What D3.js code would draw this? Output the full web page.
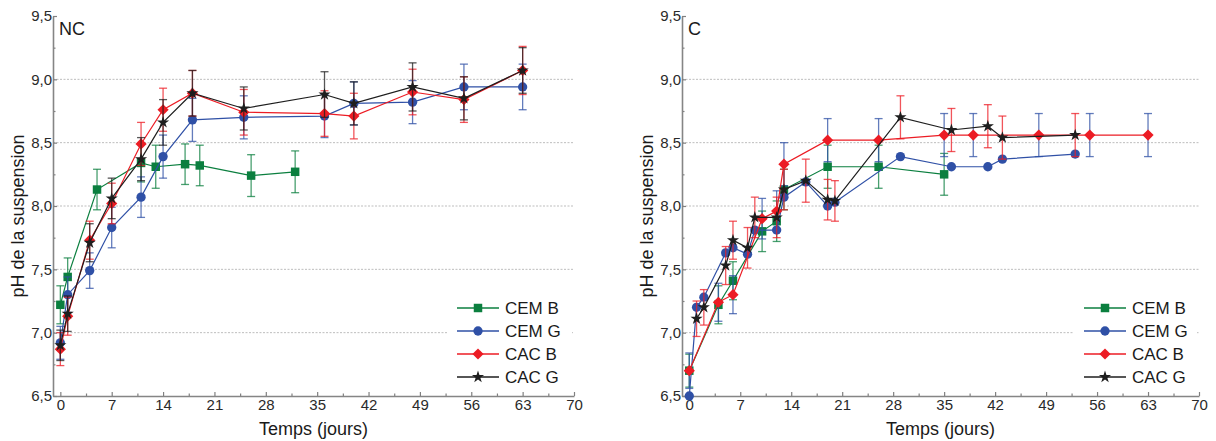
<!DOCTYPE html>
<html><head><meta charset="utf-8">
<script src="https://cdn.jsdelivr.net/npm/d3@7/dist/d3.min.js"></script>
<style>
body{margin:0;background:#fff;}
text{font-family:"Liberation Sans",Arial,sans-serif;}
</style></head>
<body>
<script>
// ---------- DATA ----------
const seriesNames = ["CEM B","CEM G","CAC B","CAC G"];
const xTicks = [0,7,14,21,28,35,42,49,56,63,70];
const yTicks = [6.5,7.0,7.5,8.0,8.5,9.0,9.5];

// Panel NC
const ncDaysCEMB = [0,1,5,11,13,17,19,26,32];
const ncCEMB     = [7.22,7.44,8.13,8.34,8.31,8.33,8.32,8.24,8.27];
const ncCEMBerr  = [0.15,0.15,0.16,0.15,0.17,0.16,0.16,0.165,0.165];
const ncDaysCEMG = [0,1,4,7,11,14,18,25,36,40,48,55,63];
const ncCEMG     = [6.92,7.30,7.49,7.83,8.07,8.39,8.68,8.70,8.71,8.81,8.82,8.94,8.94];
const ncCEMGerr  = [0.13,0.14,0.14,0.16,0.16,0.17,0.17,0.17,0.17,0.17,0.17,0.18,0.18];
const ncDaysCACB = [0,1,4,7,11,14,18,25,36,40,48,55,63];
const ncCACB     = [6.87,7.13,7.73,8.02,8.49,8.76,8.89,8.74,8.73,8.71,8.90,8.84,9.07];
const ncCACBerr  = [0.13,0.15,0.15,0.16,0.17,0.17,0.18,0.18,0.18,0.18,0.18,0.18,0.19];
const ncDaysCACG = [0,1,4,7,11,14,18,25,36,40,48,55,63];
const ncCACG     = [6.90,7.15,7.71,8.06,8.37,8.66,8.89,8.77,8.88,8.81,8.94,8.85,9.07];
const ncCACGerr  = [0.12,0.14,0.15,0.16,0.17,0.18,0.18,0.17,0.18,0.17,0.19,0.17,0.18];

// Panel C
const cDaysCEMB = [0,4,6,10,12,13,19,26,35];
const cCEMB     = [6.70,7.22,7.41,7.80,7.88,8.13,8.31,8.31,8.25];
const cCEMBerr  = [0.13,0.15,0.15,0.16,0.16,0.16,0.17,0.17,0.165];
const cDaysCEMG = [0,1,2,5,6,8,9,12,13,16,19,20,29,36,41,43,53];
const cCEMG     = [6.50,7.20,7.28,7.63,7.67,7.62,7.81,7.81,8.07,8.19,8.00,8.03,8.39,8.31,8.31,8.37,8.41];
const cDaysCACB = [0,4,6,10,12,13,19,26,35,39,48,55,63];
const cCACB     = [6.70,7.24,7.30,7.90,7.96,8.33,8.52,8.52,8.56,8.56,8.56,8.56,8.56];
const cCACBerr  = [0.14,0.15,0.15,0.16,0.16,0.17,0.17,0.17,0.17,0.17,0.17,0.17,0.17];
const cDaysCACG = [1,2,5,6,8,9,12,13,16,19,20,29,36,41,43,53];
const cCACG     = [7.11,7.20,7.53,7.73,7.67,7.91,7.91,8.13,8.20,8.05,8.04,8.70,8.60,8.63,8.54,8.56];
const cCACGerr  = [0.14,0.14,0.15,0.15,0.16,0.16,0.16,0.16,0.17,0.16,0.16,0.17,0.17,0.17,0.17,0.17];

// ---------- STYLE ----------
const COL = {green:"#0b7f3f", blue:"#2f50a6", red:"#ec1c24", black:"#1e1e1e"};
const seriesStyle = [
  {color:COL.green, shape:"square"},
  {color:COL.blue,  shape:"circle"},
  {color:COL.red,   shape:"diamond"},
  {color:COL.black, shape:"star"}
];

function zip(days, vals, errs){ return days.map((d,i)=>({x:d, y:vals[i], e: errs? errs[i] : null})); }

const panels = [
  { label:"NC", range:[53,574], legendX:457,
    series:[
      {data:zip(ncDaysCEMB,ncCEMB,ncCEMBerr), errColor:COL.green},
      {data:zip(ncDaysCEMG,ncCEMG,ncCEMGerr), errColor:COL.blue},
      {data:zip(ncDaysCACB,ncCACB,ncCACBerr), errColor:COL.red},
      {data:zip(ncDaysCACG,ncCACG,ncCACGerr), errColor:COL.black}
    ]},
  { label:"C", range:[682,1199], legendX:1084,
    series:[
      {data:zip(cDaysCEMB,cCEMB,cCEMBerr), errColor:COL.green},
      {data:zip(cDaysCEMG,cCEMG,null), errColor:COL.blue},
      {data:zip(cDaysCACB,cCACB,cCACBerr), errColor:COL.blue},
      {data:zip(cDaysCACG,cCACG,cCACGerr), errColor:COL.red}
    ]}
];

const svg = d3.select("body").append("svg").attr("width",1216).attr("height",441);

const y = d3.scaleLinear().domain([6.5,9.5]).range([396,16]);
const fmt = v => d3.format(".1f")(v).replace(".",",");

function markerPath(shape){
  if(shape==="square") return d3.symbol(d3.symbolSquare, 72)();
  if(shape==="circle") return d3.symbol(d3.symbolCircle, 68)();
  if(shape==="star") return d3.symbol(d3.symbolStar, 46)();
  const h=5.6; return `M0,${-h}L${h},0L0,${h}L${-h},0Z`;
}

panels.forEach(p=>{
  const x = d3.scaleLinear().domain([-1,70]).range(p.range);
  const g = svg.append("g");

  g.selectAll(".grid").data([7.0,7.5,8.0,8.5,9.0]).join("line")
    .attr("x1",p.range[0]).attr("x2",p.range[1])
    .attr("y1",d=>y(d)).attr("y2",d=>y(d))
    .attr("stroke","#bdbdbd").attr("stroke-width",1).attr("stroke-dasharray","2,1.5");

  const minorX = d3.range(3.5,70,7);
  const minorY = d3.range(6.75,9.5,0.5);
  g.append("g").attr("transform","translate(0,396)")
    .call(d3.axisBottom(x).tickValues(minorX).tickSize(-2.5).tickFormat(""))
    .call(s=>{s.select(".domain").remove(); s.selectAll("line").attr("stroke","#808080").attr("stroke-width",1.2);});
  g.append("g").attr("transform",`translate(${p.range[0]},0)`)
    .call(d3.axisLeft(y).tickValues(minorY).tickSize(-2.5).tickFormat(""))
    .call(s=>{s.select(".domain").remove(); s.selectAll("line").attr("stroke","#808080").attr("stroke-width",1.2);});

  const xa = g.append("g").attr("transform","translate(0,396)")
    .call(d3.axisBottom(x).tickValues(xTicks).tickSizeInner(-4).tickSizeOuter(0).tickPadding(3));
  const ya = g.append("g").attr("transform",`translate(${p.range[0]},0)`)
    .call(d3.axisLeft(y).tickValues(yTicks).tickFormat(fmt).tickSizeInner(-4).tickSizeOuter(0).tickPadding(1));
  [xa,ya].forEach(a=>{
    a.select(".domain").attr("stroke","#858585").attr("stroke-width",1.6);
    a.selectAll(".tick line").attr("stroke","#808080").attr("stroke-width",1.2);
    a.selectAll("text").attr("font-size",15).attr("fill","#2a2a2a")
      .style("font-family",'"Liberation Sans",Arial,sans-serif');
  });

  const cx = (p.range[0]+p.range[1])/2;
  g.append("text").attr("x",cx).attr("y",435).attr("text-anchor","middle")
    .attr("font-size",18).attr("fill","#1a1a1a").text("Temps (jours)");
  const ylx = p.range[0]-29;
  g.append("text").attr("transform",`translate(${ylx},216) rotate(-90)`)
    .attr("text-anchor","middle").attr("font-size",18).attr("fill","#1a1a1a").text("pH de la suspension");

  g.append("text").attr("x",p.range[0]+6).attr("y",35).attr("font-size",18).attr("fill","#1a1a1a").text(p.label);

  p.series.forEach((s,i)=>{
    const st = seriesStyle[i];
    const sg = g.append("g");
    const withErr = s.data.filter(d=>d.e!=null);
    const eb = sg.selectAll(".eb").data(withErr).join("g")
      .attr("stroke",s.errColor).attr("stroke-width",1.3).attr("stroke-opacity",0.75);
    eb.append("line").attr("x1",d=>x(d.x)).attr("x2",d=>x(d.x))
      .attr("y1",d=>y(d.y+d.e)).attr("y2",d=>y(Math.max(6.5,d.y-d.e)));
    eb.append("line").attr("x1",d=>x(d.x)-4).attr("x2",d=>x(d.x)+4)
      .attr("y1",d=>y(d.y+d.e)).attr("y2",d=>y(d.y+d.e));
    eb.filter(d=>d.y-d.e>=6.5).append("line").attr("x1",d=>x(d.x)-4).attr("x2",d=>x(d.x)+4)
      .attr("y1",d=>y(d.y-d.e)).attr("y2",d=>y(d.y-d.e));

    sg.append("path").datum(s.data)
      .attr("d",d3.line().x(d=>x(d.x)).y(d=>y(d.y)))
      .attr("fill","none").attr("stroke",st.color).attr("stroke-width",1.2);

    sg.selectAll(".m").data(s.data).join("path")
      .attr("d",markerPath(st.shape))
      .attr("transform",d=>`translate(${x(d.x)},${y(d.y)})`)
      .attr("fill",st.color);
  });

  const lx = p.legendX;
  const lg = g.append("g");
  lg.append("rect").attr("x",lx-10).attr("y",295).attr("width",p.range[1]-lx+8).attr("height",94).attr("fill","#fff");
  seriesNames.forEach((n,i)=>{
    const ly = 308 + i*23;
    const st = seriesStyle[i];
    lg.append("line").attr("x1",lx).attr("x2",lx+42).attr("y1",ly).attr("y2",ly)
      .attr("stroke",st.color).attr("stroke-width",1.3);
    lg.append("path").attr("d",markerPath(st.shape)).attr("transform",`translate(${lx+21},${ly})`).attr("fill",st.color);
    lg.append("text").attr("x",lx+48).attr("y",ly+6).attr("font-size",17).attr("fill","#1a1a1a").text(n);
  });
});
</script>
</body></html>
